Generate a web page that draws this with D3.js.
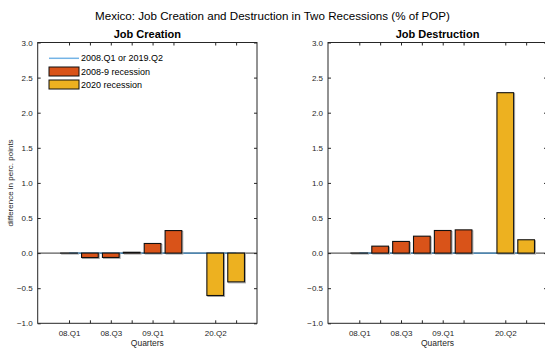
<!DOCTYPE html>
<html><head><meta charset="utf-8">
<script src="https://cdn.jsdelivr.net/npm/d3@7"></script>
<style>
body{margin:0;background:#fff;}
text{font-family:"Liberation Sans",Arial,Helvetica,sans-serif;}
</style></head>
<body><svg id="chart" width="545" height="348"></svg>
<script>
const positions = [1,2,3,4,5,6,8,9];
const tickLabels = ["08.Q1","","08.Q3","","09.Q1","","20.Q2",""];
const groups = ["2008-9","2008-9","2008-9","2008-9","2008-9","2008-9","2020","2020"];
const creation = [0, -0.063, -0.062, 0.012, 0.137, 0.321, -0.604, -0.41];
const destruction = [0, 0.099, 0.166, 0.241, 0.322, 0.331, 2.285, 0.19];
const yTicks = [-1.0,-0.5,0.0,0.5,1.0,1.5,2.0,2.5,3.0];
const legendLabels = ["2008.Q1 or 2019.Q2","2008-9 recession","2020 recession"];
const colors = {"2008-9":"#d95319","2020":"#edb120"};
const lineColor = "#2b86cc";
const legendLineColor = "#74b4e6";

const svg = d3.select("#chart");
const axisColor = "#262626";

svg.append("text").attr("x",272.5).attr("y",20).attr("text-anchor","middle")
  .style("font-size","11.6px").attr("fill","#000")
  .text("Mexico: Job Creation and Destruction in Two Recessions (% of POP)");

function panel(x0, x1, title, values, showLegend, showYLabel){
  const top = 42.5, bottom = 323.3;
  const x = d3.scaleLinear().domain([-0.5,10]).range([x0,x1]);
  const y = d3.scaleLinear().domain([-1,3]).range([bottom,top]);
  const g = svg.append("g");
  const bw = (x(1)-x(0))*0.8;

  g.append("text").attr("x",(x0+x1)/2).attr("y",37.5).attr("text-anchor","middle")
    .style("font-size","11px").style("font-weight","bold").attr("fill","#000").text(title);

  g.append("line").attr("x1",x0).attr("x2",x1).attr("y1",y(0)).attr("y2",y(0))
    .attr("stroke","#333").attr("stroke-width",1);
  g.append("line").attr("x1",x(1)).attr("x2",x(9)).attr("y1",y(0)).attr("y2",y(0))
    .attr("stroke",lineColor).attr("stroke-width",1);

  const bh = d=>Math.max(0.01, Math.abs(y(d)-y(0)));
  g.selectAll("rect.sh").data(values).join("rect").attr("class","sh")
    .attr("x",(d,i)=>x(positions[i])-bw/2+1)
    .attr("y",d=>Math.min(y(d),y(0))+1)
    .attr("width",bw)
    .attr("height",bh)
    .attr("fill","none").attr("stroke","#aaa").attr("stroke-width",1);
  g.selectAll("rect.bar").data(values).join("rect").attr("class","bar")
    .attr("x",(d,i)=>x(positions[i])-bw/2)
    .attr("y",d=>Math.min(y(d),y(0)))
    .attr("width",bw)
    .attr("height",bh)
    .attr("fill",(d,i)=>colors[groups[i]])
    .attr("stroke","#111").attr("stroke-width",1.1);

  g.append("rect").attr("x",x0).attr("y",top).attr("width",x1-x0).attr("height",bottom-top)
    .attr("fill","none").attr("stroke",axisColor).attr("stroke-width",1);

  const tl = 3;
  const yAxis = d3.axisLeft(y).tickValues(yTicks).tickFormat(d3.format(".1f")).tickSizeInner(-tl).tickSizeOuter(0).tickPadding(5);
  const ya = g.append("g").attr("transform",`translate(${x0},0)`).call(yAxis);
  const yAxisR = d3.axisRight(y).tickValues(yTicks).tickFormat("").tickSizeInner(-tl).tickSizeOuter(0);
  const yr = g.append("g").attr("transform",`translate(${x1},0)`).call(yAxisR);
  const xAxis = d3.axisBottom(x).tickValues(positions).tickFormat((d,i)=>tickLabels[i]).tickSizeInner(-tl).tickSizeOuter(0).tickPadding(7);
  const xa = g.append("g").attr("transform",`translate(0,${bottom})`).call(xAxis);
  const xAxisT = d3.axisTop(x).tickValues(positions).tickFormat("").tickSizeInner(-tl).tickSizeOuter(0);
  const xt = g.append("g").attr("transform",`translate(0,${top})`).call(xAxisT);
  [ya,yr,xa,xt].forEach(a=>{
    a.select(".domain").remove();
    a.selectAll("line").attr("stroke",axisColor);
    a.selectAll("text").attr("fill",axisColor).style("font-size","8px").style("font-family","'Liberation Sans',Arial,sans-serif");
  });

  g.append("text").attr("x",(x0+x1)/2).attr("y",346).attr("text-anchor","middle")
    .style("font-size","8.5px").attr("fill",axisColor).text("Quarters");

  if(showYLabel){
    g.append("text").attr("transform",`translate(13,${(top+bottom)/2}) rotate(-90)`)
      .attr("text-anchor","middle").style("font-size","8px").attr("fill",axisColor)
      .text("difference in perc. points");
  }

  if(showLegend){
    const lx = 49, lw = 30;
    const lg = g.append("g");
    lg.append("line").attr("x1",lx).attr("x2",lx+lw).attr("y1",58.3).attr("y2",58.3)
      .attr("stroke",legendLineColor).attr("stroke-width",1.5);
    const boxes = [{y:67,c:colors["2008-9"]},{y:80,c:colors["2020"]}];
    boxes.forEach(b=>{
      lg.append("rect").attr("x",lx).attr("y",b.y).attr("width",lw).attr("height",9)
        .attr("fill",b.c).attr("stroke","#111").attr("stroke-width",1);
    });
    const ty = [58.3,71.5,84.5];
    legendLabels.forEach((t,i)=>{
      lg.append("text").attr("x",lx+32).attr("y",ty[i]).attr("dy","0.35em")
        .style("font-size","9px").attr("fill","#000").text(t);
    });
  }
}

panel(37.7, 257, "Job Creation", creation, true, true);
panel(328, 547, "Job Destruction", destruction, false, false);
</script>
</body></html>
